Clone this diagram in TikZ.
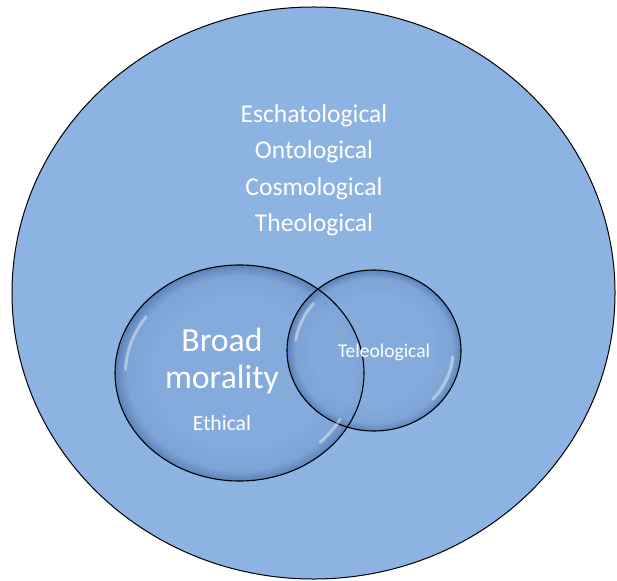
\documentclass[tikz,border=0pt]{standalone}
\usepackage{fontspec}
\setmainfont{Carlito}
\usetikzlibrary{shapes.geometric}
\definecolor{bgblue}{RGB}{141,179,226}
\definecolor{inC}{RGB}{132,169,219}
\definecolor{midC}{RGB}{124,162,213}
\definecolor{edgeC}{RGB}{84,122,178}
\pgfdeclareradialshading{glossy}{\pgfpoint{0bp}{0bp}}{color(0bp)=(inC); color(17bp)=(inC); color(22.5bp)=(midC); color(25bp)=(edgeC); color(50bp)=(edgeC)}
\tikzset{
  lbl/.style={text=white, anchor=base, inner sep=0pt},
  bubblefill/.style={ellipse, inner sep=0pt, shading=glossy, fill opacity=0.85},
  bubbleline/.style={ellipse, inner sep=0pt, draw=black, line width=1.1bp},
  gloss/.style={white, opacity=0.4, line width=3bp, line cap=round},
}
\begin{document}
\begin{tikzpicture}[x=1bp,y=-1bp]
\useasboundingbox (0,0) rectangle (617,581);
% outer circle
\node[ellipse, inner sep=0pt, minimum width=603bp, minimum height=572bp, fill=bgblue, draw=black, line width=1bp] (outer) at (313.5,293) {};
% bubbles
\node[bubblefill, minimum width=249bp, minimum height=216bp] (Lf) at (239.5,373) {};
\node[bubblefill, minimum width=174bp, minimum height=161bp] (Rf) at (374,350.5) {};
\node[bubbleline, minimum width=249bp, minimum height=216bp] (L) at (239.5,373) {};
\node[bubbleline, minimum width=174bp, minimum height=161bp] (R) at (374,350.5) {};
% gloss highlights
\draw[gloss] plot[domain=145:178, samples=20] ({239.5+114*cos(\x)}, {373-98*sin(\x)});
\draw[gloss] plot[domain=-45:-28, samples=20] ({239.5+114*cos(\x)}, {373-98*sin(\x)});
\draw[gloss] plot[domain=140:172, samples=20] ({374+79*cos(\x)}, {350.5-73*sin(\x)});
\draw[gloss] plot[domain=-42:-5, samples=20] ({374+79*cos(\x)}, {350.5-73*sin(\x)});
% texts
\node[lbl, font=\fontsize{25.6bp}{30bp}\selectfont] (t1) at (314,123) {Eschatological};
\node[lbl, font=\fontsize{25.6bp}{30bp}\selectfont] (t2) at (314,159) {Ontological};
\node[lbl, font=\fontsize{25.6bp}{30bp}\selectfont] (t3) at (314,195) {Cosmological};
\node[lbl, font=\fontsize{25.6bp}{30bp}\selectfont] (t4) at (314,231) {Theological};
\node[lbl, font=\fontsize{33.7bp}{38bp}\selectfont] (b1) at (222,351) {Broad};
\node[lbl, font=\fontsize{33.7bp}{38bp}\selectfont] (b2) at (222,388) {morality};
\node[lbl, font=\fontsize{21.6bp}{25bp}\selectfont] (eth) at (222,430) {Ethical};
\node[lbl, font=\fontsize{19.5bp}{23bp}\selectfont] (tel) at (384,357) {Teleological};
\end{tikzpicture}
\end{document}
